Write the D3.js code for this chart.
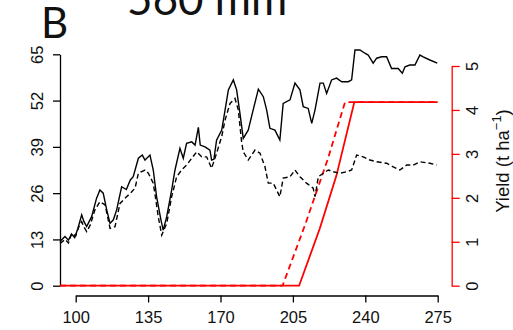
<!DOCTYPE html>
<html>
<head>
<meta charset="utf-8">
<script src="https://cdn.jsdelivr.net/npm/d3@7"></script>
<style>
  body { margin: 0; background: #fff; }
  svg { display: block; }
  .tick text { font-family: "Liberation Sans", Arial, sans-serif; font-size: 16.5px; fill: #111; }
</style>
</head>
<body>
<svg width="513" height="330"></svg>
<script>
// solid and dashed black series (left axis), day of year vs value
const solidLine = [
  [92.4,12.4],[94.8,13.8],[96.5,12.8],[98,14.5],[99.5,13.5],[101,16],[102.9,19.9],[104,18],
  [105.3,16.6],[107.7,19.4],[110.1,24.6],[111.7,26.9],[113.3,26],[115,21.3],[116.6,17.5],
  [118.2,18.5],[119.8,21.3],[122.2,27.8],[124.5,27],[126.4,29.7],[127.8,30.6],[130.3,35.8],
  [132.2,36.7],[133.5,35.3],[135.9,36.7],[137.5,32.5],[139.1,25],[141.2,18.5],[142.3,15.6],
  [144,19.4],[146.4,26.9],[148,32.5],[150.4,38.6],[152,35.8],[153.6,40],[156.1,40.4],
  [157.7,39.5],[159.3,44.5],[160.2,39.5],[162.5,39],[164.9,38.1],[165.7,35.3],[166.8,35.5],
  [168.1,40.9],[170.6,43.7],[172.2,49.3],[173.8,55],[176.2,57.8],[177.8,55],[179.4,48.4],
  [181,41.4],[183.4,43.7],[185.8,49.4],[188.3,55.2],[190.7,53.1],[192.3,49.4],[193.9,44.2],
  [196.3,43.7],[198.7,40.9],[200.3,51.2],[203.6,52.2],[206,56.9],[208.4,55],[210,50.3],
  [212.4,49.8],[214.1,45.6],[215.7,49.4],[218.1,56.9],[219.7,56.9],[221.3,54],[223.7,57.8],
  [226.1,58.3],[228.6,57.3],[231.8,57.3],[233.4,57.8],[235,66.2],[237.4,66.2],[239.8,65.3],
  [241.4,64.8],[243.8,62.5],[245.5,63.9],[247.9,64.3],[250.3,64.3],[252.7,61],[255.9,61],
  [257.9,59.7],[259.2,61.5],[261.5,62],[264,62],[266.4,64.8],[268,64.3],[271.2,63.4],[274.8,62.5]
];
const dashedLine = [
  [92.4,11.9],[95,13],[96.5,12],[98.1,14.7],[100,14],[101.5,16.5],[102.9,18],[104,16.5],
  [105.3,15.2],[107,17],[109.3,21.3],[111.7,23.6],[114.2,22.7],[116.6,16.1],[119,16.6],
  [121.4,23.1],[124.6,25],[126.5,26],[128.7,27.4],[130.3,31.6],[133.5,32.5],[135.1,31.6],
  [137.5,28.8],[138.5,25],[139.9,19.4],[141.6,14.2],[144,17.5],[146.4,25],[148.8,30.6],
  [151.2,32.5],[153.6,33.9],[156.1,35.8],[158.5,37.6],[160.9,36.2],[163.3,36.2],[165.7,33],
  [168.1,37.2],[170.6,41.9],[172.2,46.5],[174.6,51.2],[177,52.6],[178.6,49.4],[180.2,40.4],
  [181,37.6],[183.4,35.3],[186.7,38.1],[189.1,37.2],[191.5,33.4],[193.1,28.8],[195.5,28.8],
  [197,27],[198.7,25],[200.3,30.2],[203.6,30.6],[206,32.5],[208.4,30.6],[211.6,28.8],
  [214.8,27.4],[215.7,25],[217.3,30.6],[219.7,31.6],[222.1,32.5],[224.5,32],[227.7,31.6],
  [231,32],[233.4,32.5],[235.8,36.7],[239,36.2],[242.2,35.3],[245.5,34.8],[250.3,34.4],
  [253.5,33.4],[256.7,32.5],[260,33.9],[263.2,33.9],[266.4,34.8],[271.2,34.4],[274.5,33.9]
];
// yield (right axis)
const yieldSolid = [[92.4,0],[208,0],[218,1.3],[226,2.5],[234.7,4.18],[275,4.18]];
const yieldDashed = [[92.4,0],[200,0],[211,1.4],[222,2.9],[230.2,4.18],[275,4.18]];

const xTicks = [100, 135, 170, 205, 240, 275];
const leftTicks = [0, 13, 26, 39, 52, 65];
const rightTicks = [0, 1, 2, 3, 4, 5];

const svg = d3.select("svg");

const x = d3.scaleLinear().domain([100, 275]).range([75.7, 437.7]);
const yL = d3.scaleLinear().domain([0, 65]).range([285.7, 54.3]);
const yR = d3.scaleLinear().domain([0, 5]).range([285.7, 66]);

// axes
const gx = svg.append("g")
  .attr("transform", "translate(0,295.5)")
  .call(d3.axisBottom(x).tickValues(xTicks).tickSize(7).tickSizeOuter(0));
gx.selectAll("text").attr("y", 27).attr("dy", 0);

const gl = svg.append("g")
  .attr("transform", "translate(60,0)")
  .call(d3.axisLeft(yL).tickValues(leftTicks).tickSize(7).tickSizeOuter(0));
gl.selectAll("text")
  .attr("x", null).attr("dy", null)
  .attr("text-anchor", "middle")
  .attr("transform", "translate(-17,0) rotate(-90)");

const gr = svg.append("g")
  .attr("transform", "translate(451.7,0)")
  .call(d3.axisRight(yR).tickValues(rightTicks).tickFormat(d3.format("d"))
    .tickSize(8).tickSizeOuter(0));
gr.selectAll("text")
  .attr("x", null).attr("dy", null)
  .attr("text-anchor", "middle")
  .attr("transform", "translate(26.5,0) rotate(-90)");
gr.select(".domain").attr("stroke", "#ff0000");
gr.selectAll(".tick line").attr("stroke", "#ff0000");

[gx, gl, gr].forEach(g => g.selectAll("path, line").attr("stroke-width", 1.3));

// lines
const lineL = d3.line().x(d => x(d[0])).y(d => yL(d[1]));
const lineR = d3.line().x(d => x(d[0])).y(d => yR(d[1]));

svg.append("path").datum(yieldSolid)
  .attr("d", lineR).attr("fill", "none").attr("stroke", "#ff0000").attr("stroke-width", 1.8);
svg.append("path").datum(yieldDashed)
  .attr("d", lineR).attr("fill", "none").attr("stroke", "#ff0000").attr("stroke-width", 1.8)
  .attr("stroke-dasharray", "6,4");

svg.append("path").datum(solidLine)
  .attr("d", lineL).attr("fill", "none").attr("stroke", "#000").attr("stroke-width", 1.4);
svg.append("path").datum(dashedLine)
  .attr("d", lineL).attr("fill", "none").attr("stroke", "#000").attr("stroke-width", 1.4)
  .attr("stroke-dasharray", "5,3");

// right axis title
const yt = svg.append("text")
  .attr("transform", "translate(509,161) rotate(-90)")
  .attr("text-anchor", "middle")
  .attr("font-family", "Liberation Sans, Arial, sans-serif")
  .attr("font-size", 18.5)
  .attr("fill", "#111");
yt.append("tspan").text("Yield (t ha");
yt.append("tspan").attr("dy", -8).attr("font-size", 13).text("\u22121");
yt.append("tspan").attr("dy", 8).text(")");

// panel label and title
svg.append("text").attr("x", 41).attr("y", 37.5)
  .attr("font-family", "Lato, sans-serif").attr("font-size", 42).attr("fill", "#111").text("B");
svg.append("text").attr("x", 127).attr("y", 15)
  .attr("font-family", "Lato, sans-serif").attr("font-size", 44).attr("fill", "#111").text("560 mm");
</script>
</body>
</html>
